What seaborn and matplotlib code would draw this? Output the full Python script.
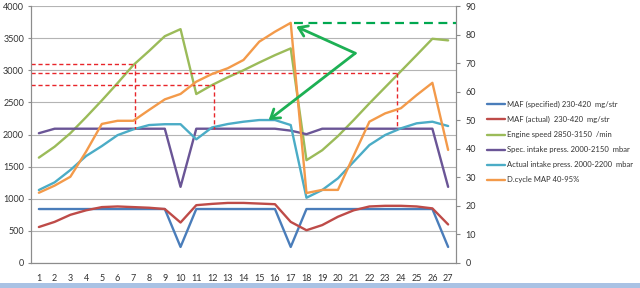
import numpy as np
import pandas as pd
import matplotlib
matplotlib.use("Agg")
import matplotlib.pyplot as plt
from matplotlib.patches import FancyArrowPatch, Rectangle
import seaborn as sns

# ---------------- data ----------------
cycles = list(range(1, 28))
maf_spec = [840, 840, 840, 840, 840, 840, 840, 840, 840, 250, 840, 840, 840, 840,
            840, 840, 250, 840, 840, 840, 840, 840, 840, 840, 840, 840, 250]
maf_act = [560, 640, 750, 820, 870, 880, 870, 860, 840, 630, 900, 920, 935, 935,
           925, 915, 640, 510, 590, 720, 820, 880, 890, 890, 880, 850, 600]
engine_speed = [1640, 1810, 2020, 2270, 2530, 2800, 3080, 3300, 3530, 3640, 2630, 2770,
                2890, 3000, 3120, 3235, 3340, 1600, 1755, 1975, 2225, 2485, 2735, 2985,
                3236, 3490, 3465]
spec_intake = [2020, 2090, 2090, 2090, 2090, 2090, 2090, 2090, 2090, 1185, 2090, 2090,
               2090, 2090, 2090, 2090, 2060, 2005, 2090, 2090, 2090, 2090, 2090, 2090,
               2090, 2090, 1185]
act_intake = [1136, 1255, 1447, 1665, 1820, 1990, 2080, 2147, 2160, 2160, 1925, 2110,
              2163, 2199, 2225, 2225, 2147, 1016, 1136, 1318, 1576, 1836, 1992, 2096,
              2174, 2199, 2132]
dcycle_map = [24.6, 27.1, 30.2, 39.0, 48.7, 49.8, 49.8, 53.6, 57.3, 59.2, 63.5, 66.2,
              68.2, 71.1, 77.5, 81.0, 84.1, 24.5, 25.6, 25.6, 37.6, 49.5, 52.4, 54.2,
              58.8, 63.1, 39.6]

left_labels = ["MAF (specified) 230-420  mg/str",
               "MAF (actual)  230-420  mg/str",
               "Engine speed 2850-3150  /min",
               "Spec. intake press. 2000-2150  mbar",
               "Actual intake press. 2000-2200  mbar"]
right_label = "D.cycle MAP 40-95%"
left_series = [maf_spec, maf_act, engine_speed, spec_intake, act_intake]
left_colors = ["#4A7DBA", "#BE4B48", "#9BBB59", "#6A5596", "#4BACC6"]
right_color = "#F39A4A"

left_ticks = list(range(0, 4001, 500))
right_ticks = list(range(0, 91, 10))

# annotation guides (left-axis units)
red_guides = [(7.12, 3096), (23.75, 2955), (12.12, 2775)]
red_floor = 2090
green_dash_level = 84.0  # right-axis units
green_dash_start = 17.2
arrow_vertex = (21.1, 3265)
arrow_targets = [(17.35, 3680), (15.6, 2225)]

# ---------------- plot ----------------
sns.set_style("white")
plt.rcParams["font.family"] = ["Lato", "DejaVu Sans"]

fig = plt.figure(figsize=(6.4, 2.88), dpi=100)
ax = fig.add_axes([31 / 640, 25 / 288, (456 - 31) / 640, (263 - 6) / 288])
ax2 = ax.twinx()

long = pd.DataFrame({
    "cycle": cycles * len(left_labels),
    "value": sum(left_series, []),
    "series": sum([[lab] * len(cycles) for lab in left_labels], []),
})
sns.lineplot(data=long, x="cycle", y="value", hue="series", hue_order=left_labels,
             palette=left_colors, linewidth=1.7, ax=ax, legend=False, zorder=3)
sns.lineplot(x=cycles, y=dcycle_map, color=right_color, linewidth=1.7, ax=ax2,
             legend=False, zorder=3)

gray = "#8C8C8C"
ax.set_xlim(0.5, 27.5)
ax.set_ylim(0, 4000)
ax2.set_ylim(0, 90)
ax.set_yticks(left_ticks)
ax2.set_yticks(right_ticks)
ax.set_xticks(cycles)
ax.set_xticks(np.arange(0.5, 27.6, 1.0), minor=True)
ax.yaxis.grid(True, color="#B4B4B4", linewidth=0.8)
ax.set_axisbelow(True)
ax.set_xlabel("")
ax.set_ylabel("")
ax2.set_ylabel("")

for a in (ax, ax2):
    for s in a.spines.values():
        s.set_color(gray)
        s.set_linewidth(0.8)
    a.spines["top"].set_visible(False)
ax.tick_params(axis="x", which="major", length=0, pad=8, labelsize=6.5, labelcolor="#333333")
ax.tick_params(axis="x", which="minor", length=3, color=gray, width=0.8)
ax.tick_params(axis="y", length=2, pad=3, labelsize=6.5, labelcolor="#333333", color=gray)
ax2.tick_params(axis="y", length=3, pad=4, labelsize=6.5, labelcolor="#333333", color=gray)

# red dashed guides
for xg, yg in red_guides:
    ax.plot([0.5, xg], [yg, yg], color="#E8252A", linewidth=1.0, dashes=(3, 2), zorder=4)
    ax.plot([xg, xg], [yg, red_floor], color="#E8252A", linewidth=1.0, dashes=(3, 2), zorder=4)

# green dashed level line
ax2.plot([green_dash_start, 27.5], [green_dash_level, green_dash_level], color="#00A850",
         linewidth=1.6, dashes=(4, 2.5), zorder=5, clip_on=False)

# green arrows
for tx, ty in arrow_targets:
    arr = FancyArrowPatch(arrow_vertex, (tx, ty), arrowstyle="->,head_length=6,head_width=4",
                          color="#1DB054", linewidth=2.0, zorder=6, shrinkA=0, shrinkB=0,
                          transform=ax.transData)
    ax2.add_patch(arr)

# legend
handles = [plt.Line2D([], [], color=c, linewidth=1.7) for c in left_colors]
handles.append(plt.Line2D([], [], color=right_color, linewidth=1.7))
fig.legend(handles, left_labels + [right_label], loc="upper left",
           bbox_to_anchor=(483 / 640, 1 - 97 / 288), frameon=False, fontsize=5.5,
           handlelength=2.4, handletextpad=0.3, labelspacing=1.05, borderpad=0,
           labelcolor="#333333")

# bottom scrollbar band
fig.patches.append(Rectangle((0, 0), 1, 5 / 288, transform=fig.transFigure,
                             facecolor="#A9C2E4", edgecolor="none"))

fig.savefig("out.png", dpi=100)
